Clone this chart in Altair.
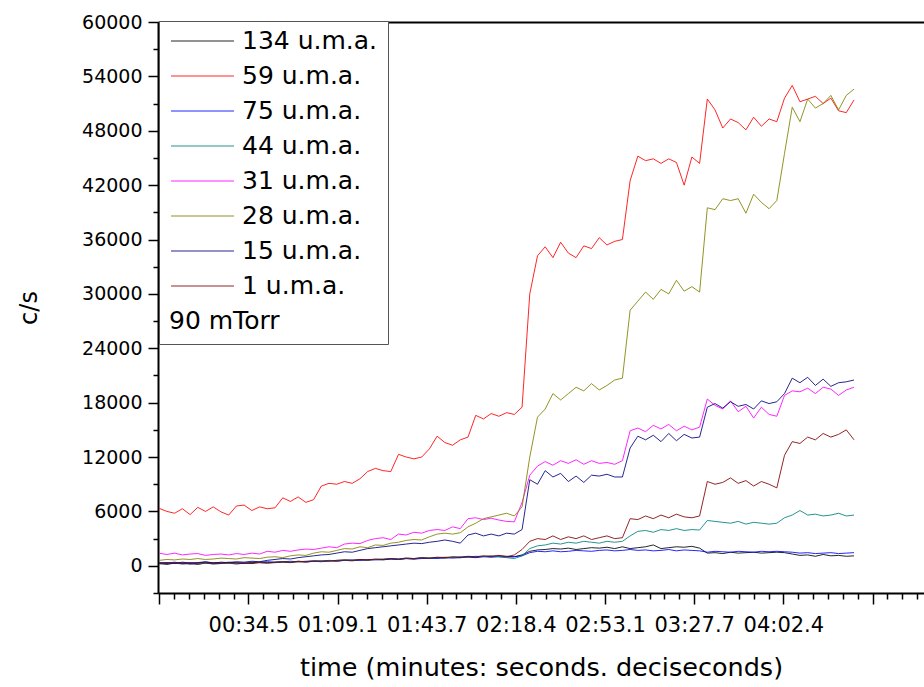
import altair as alt
import pandas as pd

# Sampling grid of the mass-spectrometer scan (seconds)
T_STEP = 3.0
N_POINTS = 91
TIME_S = [i * T_STEP for i in range(N_POINTS)]

SERIES = ["134 u.m.a.", "59 u.m.a.", "75 u.m.a.", "44 u.m.a.",
          "31 u.m.a.", "28 u.m.a.", "15 u.m.a.", "1 u.m.a."]
COLORS = ["#000000", "#FF0000", "#0000FF", "#008080",
          "#FF00FF", "#808000", "#000080", "#800000"]

# Counts per second for each mass, one value per sample
M134 = [250, 150, 300, 200, 250, 150, 300, 200, 250, 300,
        200, 300, 250, 350, 300, 350, 400, 350, 450, 400,
        500, 450, 550, 500, 600, 550, 650, 600, 700, 650,
        750, 700, 800, 750, 850, 800, 900, 850, 950, 900,
        1000, 950, 1050, 1000, 1100, 1050, 1000, 1200, 1600, 1750,
        1800, 1900, 1850, 1950, 1800, 1900, 2000, 1950, 2050, 1900,
        2100, 1900, 2000, 2100, 2300, 1900, 2000, 2100, 2050, 2150,
        1950, 1400, 1450, 1350, 1500, 1400, 1450, 1500, 1400, 1450,
        1500, 1450, 1300, 1150, 1200, 1050, 1250, 1100, 1150, 1050,
        1100]
M59 = [6340, 6000, 5800, 6300, 5650, 6450, 6000, 6500, 5950, 5600,
       6600, 6700, 6100, 6500, 6300, 6400, 7500, 7100, 7600, 7000,
       7300, 8800, 9100, 9000, 9300, 9100, 9600, 10400, 10750, 10500,
       10400, 12300, 12000, 11800, 12000, 12900, 14300, 13600, 13300, 13900,
       14200, 16600, 16200, 16800, 16500, 16900, 16700, 17500, 30000, 34200,
       35200, 34000, 35700, 34500, 34000, 35300, 35000, 36200, 35400, 35800,
       36000, 42500, 45200, 44700, 44900, 44400, 44900, 44500, 42000, 45100,
       44400, 51500, 50300, 48300, 49300, 48900, 48100, 49500, 48500, 49300,
       49000, 51600, 53000, 51200, 51500, 51800, 51000, 51600, 50200, 50000,
       51400]
M75 = [350, 300, 400, 250, 350, 300, 400, 350, 300, 400,
       350, 300, 350, 400, 450, 400, 450, 500, 450, 500,
       550, 500, 600, 550, 600, 650, 600, 700, 650, 700,
       750, 700, 800, 750, 800, 850, 800, 900, 850, 900,
       950, 900, 1000, 950, 1000, 950, 1000, 1100, 1450, 1600,
       1550, 1650, 1550, 1600, 1700, 1650, 1600, 1700, 1750, 1650,
       1700, 1800, 1700, 1750, 1650, 1700, 1800, 1650, 1750, 1700,
       1650, 1500, 1600, 1550, 1500, 1600, 1550, 1500, 1600, 1550,
       1600, 1550, 1500, 1400, 1450, 1350, 1400, 1450, 1350, 1400,
       1450]
M44 = [200, 300, 250, 350, 200, 300, 250, 350, 300, 250,
       350, 300, 400, 350, 300, 400, 450, 400, 500, 450,
       550, 500, 550, 600, 650, 600, 700, 650, 700, 750,
       800, 750, 850, 800, 900, 850, 900, 950, 900, 1000,
       950, 1050, 1000, 1100, 1000, 900, 800, 1100, 1900, 2200,
       2300, 2500, 2400, 2600, 2500, 2700, 2600, 2500, 2700, 2600,
       2700, 3300, 3800, 3900, 3700, 4000, 3900, 4100, 3900, 4000,
       3950, 5000, 4900, 4800, 4700, 4900, 4600, 4800, 4700, 4600,
       4700, 5300, 5600, 6100, 5600, 5700, 5500, 5600, 5800, 5500,
       5600]
M31 = [1380, 1250, 1400, 1200, 1300, 1350, 1150, 1250, 1300, 1200,
       1350, 1250, 1400, 1300, 1600, 1500, 1700, 1600, 1750, 1850,
       1800, 1950, 2100, 2000, 2400, 2500, 2450, 2800, 3000, 3100,
       2900, 3500, 3400, 3700, 3600, 3900, 4000, 3900, 4300, 4100,
       5200, 5300, 5100, 5250, 5050, 4900, 4850, 7000, 10000, 11000,
       11500, 11100, 11600, 11300, 11700, 11200, 11600, 11300, 11400, 11200,
       11600, 14900, 15200, 14800, 15500, 15100, 15600, 14900, 15400, 15000,
       15300, 18400, 17700, 17300, 18200, 17000, 17600, 16300, 17500, 16700,
       16500, 18800, 19300, 19200, 19600, 19000, 19700, 19500, 18800, 19400,
       19700]
M28 = [600, 700, 650, 750, 700, 800, 700, 750, 850, 800,
       750, 900, 850, 800, 950, 1000, 900, 1100, 1200, 1150,
       1400, 1550, 1500, 1700, 1900, 1850, 2100, 2000, 2300, 2250,
       2500, 2600, 2800, 2900, 2850, 3200, 3500, 3600, 3500, 3650,
       4300, 4700, 5200, 5400, 5600, 5800, 5500, 6500, 12000, 16400,
       17300, 19000, 18300, 19000, 19700, 19300, 20100, 19400, 19900, 20500,
       20700, 28200, 29200, 30200, 29400, 30500, 30000, 31500, 30300, 30800,
       30200, 39500, 39300, 40500, 40300, 40500, 38900, 41000, 40100, 39400,
       40300, 45500, 50600, 49000, 51500, 50500, 51000, 51900, 50300, 51900,
       52600]
M15 = [300, 350, 250, 400, 300, 350, 450, 300, 400, 350,
       450, 400, 500, 450, 600, 700, 800, 750, 900, 1000,
       1100, 1200, 1250, 1400, 1550, 1500, 1700, 1900, 2000, 2100,
       2200, 2300, 2400, 2500, 2450, 2600, 2700, 2850, 2700, 2500,
       3400, 3600, 3300, 3500, 3300, 3600, 3500, 4000, 9500, 9000,
       10500, 9800, 10200, 9300, 9900, 9200, 10000, 9900, 10100, 9800,
       9800, 13000, 14300, 13900, 14400, 13700, 14600, 13800, 14500, 14100,
       14200, 17500, 17900, 17400, 18100, 17600, 17800, 17300, 18200, 17900,
       18100, 19000, 20700, 20200, 20800, 19900, 20600, 19800, 20200, 20300,
       20500]
M1 = [300, 250, 350, 300, 200, 300, 350, 250, 300, 350,
      300, 250, 350, 400, 350, 400, 450, 400, 500, 450,
      500, 550, 500, 600, 650, 600, 700, 650, 750, 700,
      800, 750, 850, 800, 900, 850, 950, 900, 1000, 950,
      1050, 1000, 1100, 1050, 1150, 1000, 1200, 1800, 2700, 3000,
      2900, 3300, 2900, 3200, 3000, 3300, 2900, 3100, 3300, 3000,
      3100, 5200, 5100, 5500, 5200, 5600, 5300, 5700, 5400, 5300,
      5500, 9300, 9000, 9200, 9700, 9100, 9400, 8800, 9300, 9000,
      8600, 12200, 13700, 13500, 14200, 13900, 14600, 14200, 14500, 15000,
      13900]

VALUES = [M134, M59, M75, M44, M31, M28, M15, M1]

# Axis ticks: major every 34.65 s (labelled), six minor divisions
X_MINOR_STEP = 34.65 / 6
X_TICKS = [k * X_MINOR_STEP for k in range(52)]
X_TICK_LABELS = ["", "00:34.5", "01:09.1", "01:43.7", "02:18.4",
                 "02:53.1", "03:27.7", "04:02.4"]
Y_TICKS = list(range(-3000, 60001, 3000))

rows = []
for name, vals in zip(SERIES, VALUES):
    for t, v in zip(TIME_S, vals):
        rows.append({"t": t, "v": v, "mass": name})
df = pd.DataFrame(rows)

FONT = "DejaVu Sans"
x_scale = alt.Scale(domain=[-0.47, 297.2], nice=False, zero=False)
y_scale = alt.Scale(domain=[-3000, 60000], nice=False, zero=False)

label_array = "[" + ",".join("'" + s + "'" for s in X_TICK_LABELS) + "]"
k_expr = f"round(datum.value / {X_MINOR_STEP})"
x_label_expr = f"({k_expr} % 6 === 0) ? ({label_array}[{k_expr} / 6] || '') : ''"

x_axis = alt.Axis(
    values=X_TICKS,
    labelExpr=x_label_expr,
    tickSize={"condition": {"test": f"{k_expr} % 6 === 0", "value": 11}, "value": 6},
    tickWidth=1.5, tickColor="black",
    domainWidth=2, domainColor="black",
    grid=False,
    labelFont=FONT, labelFontSize=21, labelColor="black",
    labelPadding=10, labelFlush=False, labelOverlap=False,
    title="time (minutes: seconds. deciseconds)",
    titleFont=FONT, titleFontSize=25.5, titleFontWeight="normal",
    titleColor="black", titlePadding=20,
)

y_axis = alt.Axis(
    values=Y_TICKS,
    labelExpr="datum.value % 6000 === 0 ? format(datum.value, 'd') : ''",
    tickSize={"condition": {"test": "datum.value % 6000 === 0", "value": 10}, "value": 5},
    tickWidth=1.5, tickColor="black",
    domainWidth=2, domainColor="black",
    grid=False,
    labelFont=FONT, labelFontSize=19, labelColor="black",
    labelPadding=6, labelFlush=False, labelOverlap=False,
    title="c/s",
    titleFont=FONT, titleFontSize=24, titleFontWeight="normal",
    titleColor="black", titlePadding=40,
)

legend = alt.Legend(
    orient="none", legendX=1, legendY=-1, direction="vertical",
    title="90 mTorr", titleOrient="bottom", titleAnchor="start",
    titleFont=FONT, titleFontSize=25, titleFontWeight="normal",
    titleColor="black", titlePadding=10,
    symbolType="stroke", symbolSize=3969, symbolStrokeWidth=1.2,
    symbolOffset=1,
    labelFont=FONT, labelFontSize=25, labelColor="black",
    labelOffset=7, labelLimit=0,
    clipHeight=20, rowPadding=10, padding=10,
    strokeColor="#555555", fillColor="white",
)

lines = alt.Chart(df).mark_line(strokeWidth=1, opacity=0.85).encode(
    x=alt.X("t:Q", scale=x_scale, axis=x_axis),
    y=alt.Y("v:Q", scale=y_scale, axis=y_axis),
    color=alt.Color("mass:N", scale=alt.Scale(domain=SERIES, range=COLORS),
                    legend=legend),
)

# Upper frame line of the plot
top_frame = alt.Chart(df).mark_line(strokeOpacity=0).encode(
    x=alt.X("t:Q", scale=x_scale,
            axis=alt.Axis(orient="top", labels=False, ticks=False, title=None,
                          domainWidth=2, domainColor="black", grid=False)),
    y=alt.Y("v:Q", scale=y_scale, axis=None),
    detail="mass:N",
)

chart = alt.layer(lines, top_frame).resolve_axis(
    x="independent", y="independent"
).properties(
    width=766, height=571,
    padding={"left": 158, "top": 22, "right": 0, "bottom": 94},
    autosize=alt.AutoSizeParams(type="none"),
    background="white",
).configure_view(strokeWidth=0)

chart.save("out.html", embed_options={"renderer": "svg", "actions": False})
